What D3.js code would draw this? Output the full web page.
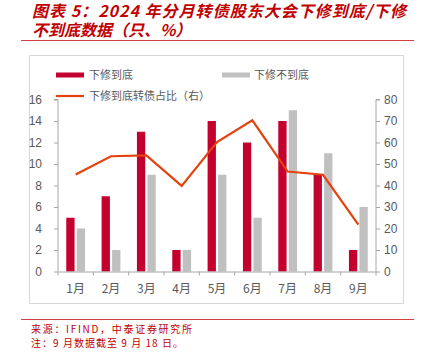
<!DOCTYPE html>
<html><head><meta charset="utf-8">
<script src="https://cdn.jsdelivr.net/npm/d3@7"></script>
<style>
html,body{margin:0;padding:0;background:#fff;}
svg{display:block;}
</style></head>
<body>
<svg id="c" width="422" height="352"></svg>
<script>
const months = ["1月","2月","3月","4月","5月","6月","7月","8月","9月"];
const fullDown = [5, 7, 13, 2, 14, 12, 14, 9, 2];
const notFullDown = [4, 2, 9, 2, 9, 5, 15, 11, 6];
const ratio = [45.1, 53.6, 54, 39.8, 60.2, 70.3, 46.5, 45, 21.8];
const leftTicks = [0,2,4,6,8,10,12,14,16];
const rightTicks = [0,10,20,30,40,50,60,70,80];
const seriesNames = ["下修到底","下修不到底","下修到底转债占比（右）"];

const red = "#C4002F", gray = "#C0C0C0", lineC = "#E4420E", txtRed = "#C00000";
const svg = d3.select("#c");
const font = "'Liberation Sans', Arial, sans-serif";
const cjk = "'Noto Sans CJK SC', sans-serif";

// title
const title = svg.append("g").attr("fill", txtRed).attr("font-family", cjk)
  .attr("font-weight", "bold").attr("font-style", "italic").attr("font-size", 16);
title.append("text").attr("x", 32).attr("y", 16.5).attr("textLength", 374).attr("lengthAdjust", "spacing")
  .text("图表 5：2024 年分月转债股东大会下修到底/下修");
title.append("text").attr("x", 32).attr("y", 35.5).text("不到底数据（只、%）");
svg.append("line").attr("x1", 21).attr("x2", 414).attr("y1", 40.5).attr("y2", 40.5)
  .attr("stroke", "#D24040").attr("stroke-width", 1.2);

// frame
svg.append("rect").attr("x", 29.5).attr("y", 55.5).attr("width", 374).attr("height", 248)
  .attr("fill", "none").attr("stroke", "#D8D8D8").attr("stroke-width", 1);

const x0 = 58, x1 = 376;
const x = d3.scaleBand().domain(months).range([x0, x1]);
const yL = d3.scaleLinear().domain([0, 16]).range([271.5, 99.5]);
const yR = d3.scaleLinear().domain([0, 80]).range([271.5, 99.5]);
const bw = 8.3, gap = 2.2;

// bars
svg.append("g").selectAll("rect").data(fullDown).join("rect")
  .attr("x", (d,i) => x(months[i]) + x.bandwidth()/2 - gap/2 - bw)
  .attr("y", d => yL(d)).attr("width", bw).attr("height", d => yL(0) - yL(d)).attr("fill", red);
svg.append("g").selectAll("rect").data(notFullDown).join("rect")
  .attr("x", (d,i) => x(months[i]) + x.bandwidth()/2 + gap/2)
  .attr("y", d => yL(d)).attr("width", bw).attr("height", d => yL(0) - yL(d)).attr("fill", gray);

// line
svg.append("path").datum(ratio)
  .attr("d", d3.line().x((d,i) => x(months[i]) + x.bandwidth()/2).y(d => yR(d)))
  .attr("fill", "none").attr("stroke", lineC).attr("stroke-width", 2.2);

// axes
const axisColor = "#A6A6A6", tickTxt = "#595959";
const gL = svg.append("g").attr("transform", `translate(${x0},0)`)
  .call(d3.axisLeft(yL).tickValues(leftTicks).tickSize(4).tickPadding(12).tickFormat(d3.format("d")));
const gR = svg.append("g").attr("transform", `translate(${x1},0)`)
  .call(d3.axisRight(yR).tickValues(rightTicks).tickSize(4).tickPadding(4).tickFormat(d3.format("d")));
const gB = svg.append("g").attr("transform", `translate(0,${yL(0)})`)
  .call(d3.axisBottom(x).tickSize(0).tickPadding(13));
svg.append("g").selectAll("line").data(d3.range(months.length + 1)).join("line")
  .attr("x1", i => x0 + i * x.step()).attr("x2", i => x0 + i * x.step())
  .attr("y1", yL(0)).attr("y2", yL(0) + 4).attr("stroke", axisColor);
[gL, gR, gB].forEach(g => {
  g.selectAll("path,line").attr("stroke", axisColor);
  g.selectAll("text").attr("fill", tickTxt).attr("font-family", font).attr("font-size", 12);
});
gL.selectAll(".tick line").attr("x2", -4);
gB.selectAll("text").attr("font-family", cjk).attr("font-size", 12);
gL.select(".domain").attr("d", `M-4,${yL(16)}H0V${yL(0)}`);
gR.select(".domain").attr("d", `M4,${yR(80)}H0V${yR(0)}`);

// legend
const lg = svg.append("g").attr("font-family", cjk).attr("font-size", 11).attr("fill", tickTxt);
lg.append("rect").attr("x", 56).attr("y", 72.5).attr("width", 28).attr("height", 5).attr("fill", red);
lg.append("text").attr("x", 89).attr("y", 79).text(seriesNames[0]);
lg.append("rect").attr("x", 222).attr("y", 72.5).attr("width", 28).attr("height", 5).attr("fill", gray);
lg.append("text").attr("x", 254).attr("y", 79).text(seriesNames[1]);
lg.append("line").attr("x1", 56).attr("x2", 84).attr("y1", 96).attr("y2", 96).attr("stroke", lineC).attr("stroke-width", 2.2);
lg.append("text").attr("x", 89).attr("y", 100).text(seriesNames[2]);

// footer
svg.append("line").attr("x1", 21).attr("x2", 414).attr("y1", 319.5).attr("y2", 319.5)
  .attr("stroke", "#D24040").attr("stroke-width", 1.2);
const ft = svg.append("g").attr("fill", txtRed).attr("font-family", cjk).attr("font-size", 10);
ft.append("text").attr("x", 31).attr("y", 333).attr("textLength", 161).attr("lengthAdjust", "spacing").text("来源：IFIND，中泰证券研究所");
ft.append("text").attr("x", 31).attr("y", 347).attr("textLength", 152).attr("lengthAdjust", "spacing").text("注：9 月数据截至 9 月 18 日。");
</script>
</body></html>
